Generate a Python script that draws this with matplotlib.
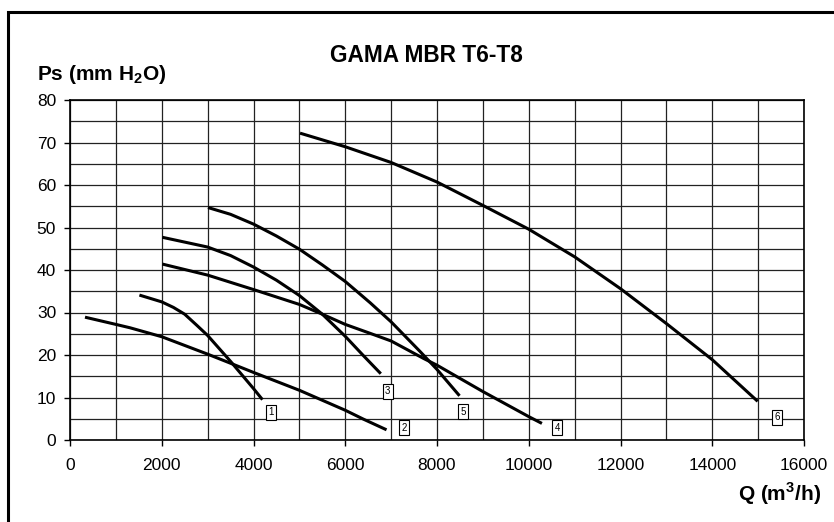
import matplotlib
matplotlib.use("Agg")
import matplotlib.pyplot as plt
from matplotlib.patches import Rectangle

plt.rcParams['font.family'] = ['Liberation Sans', 'DejaVu Sans']
plt.rcParams['mathtext.fontset'] = 'custom'
plt.rcParams['mathtext.rm'] = 'Liberation Sans'
plt.rcParams['mathtext.bf'] = 'Liberation Sans:bold'

# Data (Q in m3/h, Ps in mm H2O)
q1 = [1513, 2000, 2254, 2500, 2763, 3000, 3500, 4000, 4195]
p1 = [34.1, 32.5, 31.2, 29.6, 27.0, 24.6, 18.5, 12.1, 9.5]

q2 = [327, 1000, 1310, 2000, 3000, 3490, 4000, 5000, 6000, 6397, 6900]
p2 = [28.9, 27.2, 26.4, 24.3, 20.2, 18.1, 15.9, 11.7, 7.0, 4.9, 2.4]

q3 = [2012, 3000, 3500, 4000, 4500, 5000, 5500, 6000, 6400, 6775]
p3 = [47.7, 45.4, 43.4, 40.7, 37.6, 34.0, 29.6, 24.4, 19.8, 15.6]

q4 = [2012, 3000, 4000, 5000, 5500, 6000, 6542, 7000, 7705, 8000, 9000, 10000, 10287]
p4 = [41.4, 38.8, 35.4, 31.9, 29.6, 27.2, 25.1, 23.3, 19.2, 17.6, 11.4, 5.5, 3.9]

q5 = [3008, 3500, 4000, 4500, 5000, 5500, 6000, 6542, 7000, 7633, 8000, 8491]
p5 = [54.7, 53.1, 50.8, 48.0, 44.9, 41.2, 37.3, 32.3, 27.8, 20.8, 16.6, 10.4]

q6 = [5014, 6000, 7000, 8000, 9000, 10000, 11000, 12000, 13000, 14000, 14990]
p6 = [72.2, 69.0, 65.3, 60.7, 55.2, 49.6, 43.1, 35.6, 27.4, 18.9, 9.1]

curve_labels = ['1', '2', '3', '4', '5', '6']
label_q = [4374, 7281, 6925, 10622, 8574, 15408]
label_p = [6.5, 2.9, 11.5, 2.9, 6.7, 5.3]

xticks = [0, 2000, 4000, 6000, 8000, 10000, 12000, 14000, 16000]
yticks = [0, 10, 20, 30, 40, 50, 60, 70, 80]

fig = plt.figure(figsize=(8.34, 5.22), dpi=100)
ax = fig.add_axes([70/834, 82/522, 734/834, 340/522])

# outer frame
fig.patches.append(Rectangle((8/834, -0.2), 1.2, (522-12)/522 + 0.2,
                             transform=fig.transFigure, fill=False,
                             edgecolor='black', linewidth=2.2, zorder=0))

ax.set_xlim(0, 16000)
ax.set_ylim(0, 80)
ax.set_xticks(xticks)
ax.set_yticks(yticks)
ax.set_xticks(range(0, 16001, 1000), minor=True)
ax.set_yticks(range(0, 81, 5), minor=True)
ax.grid(which='both', color='#222222', linewidth=0.9)
ax.set_axisbelow(True)
ax.tick_params(which='minor', length=0)
ax.tick_params(which='major', length=4, width=1, labelsize=12.5, pad=9)
ax.tick_params(axis='y', pad=6)
for s in ax.spines.values():
    s.set_linewidth(1.2)

for q, p in [(q1, p1), (q2, p2), (q3, p3), (q4, p4), (q5, p5), (q6, p6)]:
    ax.plot(q, p, color='black', linewidth=2.2, solid_capstyle='butt',
            solid_joinstyle='round')

for t, x, y in zip(curve_labels, label_q, label_p):
    ax.text(x, y, t, fontsize=7, ha='center', va='center',
            bbox=dict(boxstyle='square,pad=0.25', facecolor='white',
                      edgecolor='black', linewidth=0.8))

fig.text(426/834, 1 - 55/522, 'GAMA MBR T6-T8', fontsize=16.3,
         fontweight='bold', ha='center', va='center')
fig.text(37/834, 1 - 75/522, r'Ps (mm H$_\mathbf{2}$O)', fontsize=15,
         fontweight='bold', ha='left', va='center')
fig.text(821/834, 1 - 494/522, r'Q (m$^\mathbf{3}$/h)', fontsize=15,
         fontweight='bold', ha='right', va='center')

fig.savefig('out.png', dpi=100)
